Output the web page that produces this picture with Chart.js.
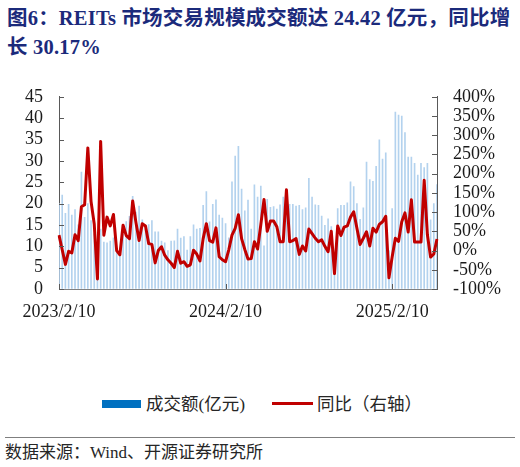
<!DOCTYPE html>
<html>
<head>
<meta charset="utf-8">
<script src="https://cdn.jsdelivr.net/npm/chart.js@4.4.1/dist/chart.umd.min.js"></script>
<style>
  html, body { margin:0; padding:0; background:#fff; }
  body { width:520px; height:467px; position:relative; overflow:hidden; font-family:"Liberation Serif","Noto Sans CJK SC",serif; }
  .title { position:absolute; left:7px; font-weight:bold; font-size:20.5px; color:#1b2a7b; white-space:nowrap; line-height:24px; letter-spacing:0.2px; }
  #chartWrap { position:absolute; left:0; top:70px; width:520px; height:260px; }
  .leg { position:absolute; font-size:17.5px; color:#262626; white-space:nowrap; line-height:20px; }
  .src { position:absolute; left:5px; top:442px; font-size:17px; color:#262626; white-space:nowrap; line-height:22px; }
</style>
</head>
<body>
<div class="title" style="top:6px;">图6：REITs 市场交易规模成交额达 24.42 亿元，同比增</div>
<div class="title" style="top:35px;">长 30.17%</div>
<div id="chartWrap"><canvas id="c" width="520" height="260"></canvas></div>
<div style="position:absolute;left:102px;top:400px;width:39px;height:8px;background:#0070c0;"></div>
<div class="leg" style="left:146px;top:394px;">成交额(亿元)</div>
<div style="position:absolute;left:272px;top:402px;width:41px;height:3px;background:#c00000;"></div>
<div class="leg" style="left:317px;top:394px;">同比（右轴）</div>
<div style="position:absolute;left:5px;top:437px;width:510px;height:1px;background:#7f7f7f;"></div>
<div class="src">数据来源：Wind、开源证券研究所</div>
<script>
// Weekly dates (categories)
const dates = [
"2023/2/10","2023/2/17","2023/2/24","2023/3/3","2023/3/10","2023/3/17","2023/3/24","2023/3/31",
"2023/4/7","2023/4/14","2023/4/21","2023/4/28","2023/5/5","2023/5/12","2023/5/19","2023/5/26",
"2023/6/2","2023/6/9","2023/6/16","2023/6/23","2023/6/30","2023/7/7","2023/7/14","2023/7/21","2023/7/28",
"2023/8/4","2023/8/11","2023/8/18","2023/8/25","2023/9/1","2023/9/8","2023/9/15","2023/9/22","2023/9/29",
"2023/10/6","2023/10/13","2023/10/20","2023/10/27","2023/11/3","2023/11/10","2023/11/17","2023/11/24",
"2023/12/1","2023/12/8","2023/12/15","2023/12/22","2023/12/29",
"2024/1/5","2024/1/12","2024/1/19","2024/1/26","2024/2/2","2024/2/9","2024/2/16","2024/2/23",
"2024/3/1","2024/3/8","2024/3/15","2024/3/22","2024/3/29","2024/4/5","2024/4/12","2024/4/19","2024/4/26",
"2024/5/3","2024/5/10","2024/5/17","2024/5/24","2024/5/31","2024/6/7","2024/6/14","2024/6/21","2024/6/28",
"2024/7/5","2024/7/12","2024/7/19","2024/7/26","2024/8/2","2024/8/9","2024/8/16","2024/8/23","2024/8/30",
"2024/9/6","2024/9/13","2024/9/20","2024/9/27","2024/10/4","2024/10/11","2024/10/18","2024/10/25",
"2024/11/1","2024/11/8","2024/11/15","2024/11/22","2024/11/29","2024/12/6","2024/12/13","2024/12/20","2024/12/27",
"2025/1/3","2025/1/10","2025/1/17","2025/1/24","2025/1/31","2025/2/7","2025/2/14","2025/2/21","2025/2/28",
"2025/3/7","2025/3/14","2025/3/21","2025/3/28","2025/4/4","2025/4/11","2025/4/18","2025/4/25","2025/5/2",
"2025/5/9","2025/5/16"
];

// 成交额 (亿元)
const turnover = [
20,22.0,17.7,19.8,17.3,18.6,15,27.4,16.8,20,
16,13,9,14,11.0,10.8,11.2,12,9,8.0,
13,15.8,17,21.7,18,19.4,16.2,14,15.1,16.0,
13.4,13.4,11.2,10.8,9,11.2,11.3,14.0,11.9,12.3,
9.1,12.3,15.0,14.0,14.2,19.6,22.8,15.7,19.8,20.9,
17.3,16.6,15.3,12,25.1,31.1,33.4,23.4,18.3,20.8,
14,24.4,21.5,24.1,10.1,21.0,19.1,19.3,18.7,19.7,
21.5,19,19.8,19.8,19.4,19.6,18.6,19.0,25.9,21.5,
19.7,19.6,17.1,14.9,16.4,14.6,8,18.8,19.6,19.6,
20.2,25.1,24,20,16.3,19.0,29.7,25.6,25.2,28.7,
34.9,30.4,31.9,9,18.8,41.4,40.7,40.5,36.6,30.9,
30.9,29.4,26.7,29.4,28.4,29.4,16.2,20,24.42
];

// 同比 (%)
const yoy = [
40,2,-36,-2,-6,41,26,114,119,267,
128,69,-74,284,40,87,64,94,0,-11,
66,39,31,129,74,26,70,64,18,16,
-32,0,10,-12,-24,-33,-44,-2,-33,-29,
-41,-37,1,-9,-27,31,70,26,22,59,
-16,-24,-29,2,40,58,93,31,3,-22,
-21,23,4,67,133,50,77,77,62,23,
23,158,23,26,31,-10,12,-1,56,44,
32,23,28,11,-3,50,-60,64,39,61,
64,87,101,58,16,32,49,12,58,48,
68,75,89,-71,-17,32,24,75,98,48,
132,22,22,22,183,41,-17,-9,30.17
];

const tickLabels = ["2023/2/10","2024/2/10","2025/2/10"];
const leftTicks = [0,5,10,15,20,25,30,35,40,45];
const rightTicks = [-100,-50,0,50,100,150,200,250,300,350,400];

// map each tick label to the nearest weekly category
function dayNum(s){ const p=s.split('/').map(Number); return Date.UTC(p[0],p[1]-1,p[2])/86400000; }
const tickIdx = {};
tickLabels.forEach(t => {
  const d = dayNum(t); let best=0, bd=1e9;
  dates.forEach((s,i)=>{ const dd=Math.abs(dayNum(s)-d); if(dd<bd){bd=dd;best=i;} });
  tickIdx[best] = t;
});

const FONT = {family:'"Liberation Serif","Noto Sans CJK SC",serif', size:18};

const innerTicks = {
  id:'innerTicks',
  afterDraw(chart){
    const {ctx, chartArea:a, scales} = chart;
    ctx.save();
    ctx.lineWidth = 1;
    ctx.strokeStyle = '#595959';
    leftTicks.forEach(v=>{
      const y = Math.round(scales.y.getPixelForValue(v))+0.5;
      ctx.beginPath(); ctx.moveTo(a.left, y); ctx.lineTo(a.left+5, y); ctx.stroke();
    });
    rightTicks.forEach(v=>{
      const y = Math.round(scales.y1.getPixelForValue(v))+0.5;
      ctx.beginPath(); ctx.moveTo(a.right-5, y); ctx.lineTo(a.right, y); ctx.stroke();
    });
    Object.keys(tickIdx).forEach(k=>{
      const x = Math.round(scales.x.getPixelForValue(Number(k)))+0.5;
      ctx.beginPath(); ctx.moveTo(x, a.bottom); ctx.lineTo(x, a.bottom-5); ctx.stroke();
    });
    ctx.restore();
  }
};

new Chart(document.getElementById('c'), {
  type:'bar',
  data:{
    labels: dates,
    datasets:[
      { type:'line', label:'同比（右轴）', data: yoy, yAxisID:'y1', borderColor:'#c00000', backgroundColor:'#c00000',
        borderWidth:3, pointRadius:0, tension:0, order:0, borderJoinStyle:'round' },
      { type:'bar', label:'成交额(亿元)', data: turnover, yAxisID:'y', backgroundColor:'#b3d2ee',
        barThickness:1, order:1 }
    ]
  },
  options:{
    responsive:false,
    animation:false,
    devicePixelRatio:1,
    layout:{ padding:{ top:19, left:0, right:0, bottom:0 } },
    plugins:{ legend:{display:false}, tooltip:{enabled:false} },
    scales:{
      x:{
        type:'category', offset:false,
        grid:{ drawOnChartArea:false, drawTicks:false },
        border:{ display:true, color:'#808080', width:1 },
        ticks:{ autoSkip:false, maxRotation:0, minRotation:0, padding:12, color:'#1a1a1a', font:FONT,
          callback:(v,i)=> tickIdx[i] !== undefined ? tickIdx[i] : '' },
        afterFit:(s)=>{ s.height = 41; }
      },
      y:{
        position:'left', min:0, max:45,
        grid:{ drawOnChartArea:false, drawTicks:false },
        border:{ display:true, color:'#595959', width:1 },
        ticks:{ stepSize:5, autoSkip:false, padding:16, color:'#1a1a1a', font:FONT },
        afterFit:(s)=>{ s.width = 59; }
      },
      y1:{
        position:'right', min:-100, max:400,
        grid:{ drawOnChartArea:false, drawTicks:false },
        border:{ display:true, color:'#595959', width:1 },
        ticks:{ stepSize:50, autoSkip:false, padding:16, color:'#1a1a1a', font:FONT, callback:(v)=> v + '%' },
        afterFit:(s)=>{ s.width = 83; }
      }
    }
  },
  plugins:[innerTicks]
});
</script>
</body>
</html>
